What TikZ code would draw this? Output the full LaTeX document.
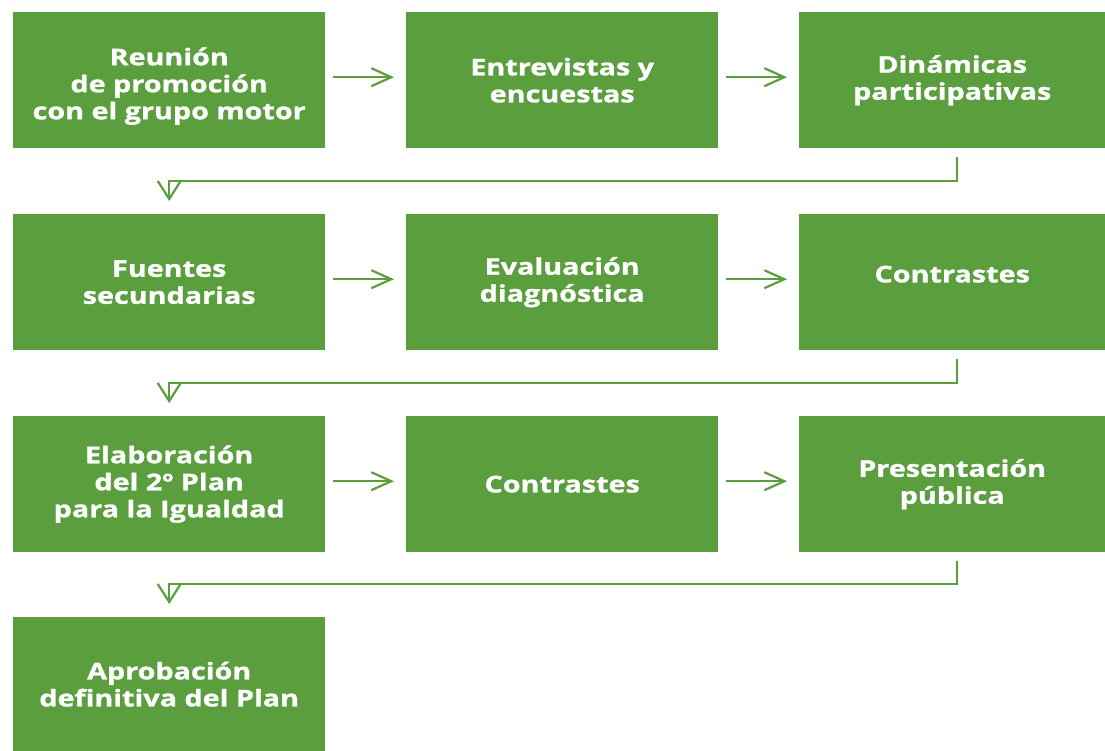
\documentclass[tikz,border=0pt]{standalone}
\usepackage{fontspec}
\setmainfont{Open Sans}[BoldFont={* Bold}, BoldFeatures={FakeStretch=1.25, FakeBold=1.2}]
\usetikzlibrary{arrows.meta}
\definecolor{gr}{RGB}{90,158,62}
\tikzset{
  box/.style={fill=gr, minimum width=312pt, minimum height=136pt, inner sep=0pt, anchor=north west},
  lbl/.style={text=white, align=center, inner sep=0pt, font=\bfseries\fontsize{23}{27}\selectfont},
  arr/.style={draw=gr, line width=2.2pt, -{Straight Barb[length=20pt,width=18pt,line width=2.2pt]}},
  wrap/.style={draw=gr, line width=2.2pt, -{Straight Barb[length=18pt,width=23pt,line width=2.2pt]}},
}
\begin{document}
\begin{tikzpicture}[x=1pt,y=-1pt]
\useasboundingbox (0,0) rectangle (1105,751);
\node[box] (a) at (13,12) {};
\node[box] (b) at (406,12) {};
\node[box, minimum width=306pt] (c) at (799,12) {};
\node[box] (d) at (13,214) {};
\node[box] (e) at (406,214) {};
\node[box, minimum width=306pt] (f) at (799,214) {};
\node[box] (g) at (13,416) {};
\node[box] (h) at (406,416) {};
\node[box, minimum width=306pt] (i) at (799,416) {};
\node[box, minimum height=134pt] (j) at (13,617) {};
\node[lbl] (at) at ([yshift=-6pt]a.center) {Reunión\\de promoción\\con el grupo motor};
\node[lbl] (bt) at (b.center) {Entrevistas y\\encuestas};
\node[lbl] (ct) at (c.center) {Dinámicas\\participativas};
\node[lbl] (dt) at (d.center) {Fuentes\\secundarias};
\node[lbl] (et) at (e.center) {Evaluación\\diagnóstica};
\node[lbl] (ft) at ([yshift=8pt]f.center) {Contrastes};
\node[lbl] (gt) at (g.center) {Elaboración\\del 2º Plan\\para la Igualdad};
\node[lbl] (ht) at (h.center) {Contrastes};
\node[lbl] (it) at (i.center) {Presentación\\pública};
\node[lbl] (jt) at (j.center) {Aprobación\\definitiva del Plan};
\foreach \u/\v in {a/b,b/c,d/e,e/f,g/h,h/i}
  \draw[arr] ([xshift=8pt,yshift=3pt]\u.east) -- ([xshift=-12pt,yshift=3pt]\v.west);
\foreach \u/\v in {c/d,f/g,i/j}
  \draw[wrap] ([xshift=5pt,yshift=-9pt]\u.south) |- ([yshift=33pt]\v.north) -- ([yshift=13pt]\v.north);
\end{tikzpicture}
\end{document}
